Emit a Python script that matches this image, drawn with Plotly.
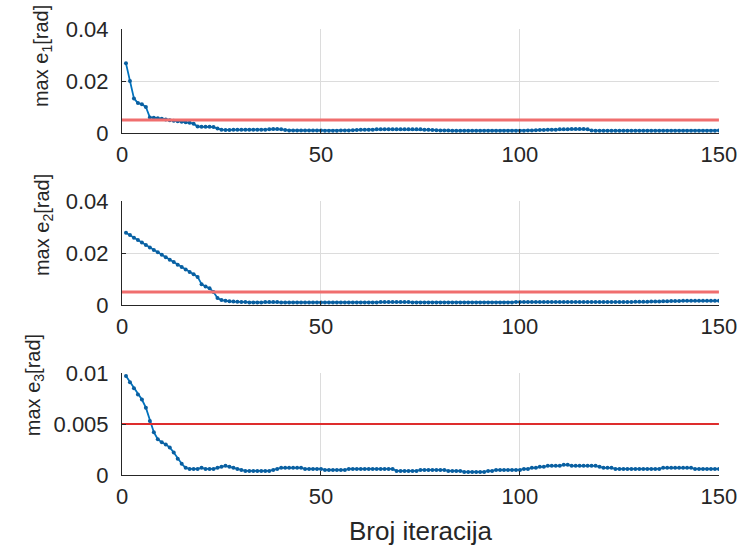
import plotly.graph_objects as go

# Iteration index
iterations = list(range(1, 151))

# Maximum tracking error per iteration, joint 1 [rad]
e1_max = [
    0.0268, 0.0200, 0.0133, 0.0115, 0.0111, 0.0100, 0.0060, 0.0059, 0.0057, 0.0055,
    0.0052, 0.0049, 0.0047, 0.0045, 0.0043, 0.0041, 0.0039, 0.0036, 0.0025, 0.0024,
    0.0024, 0.0024, 0.0023, 0.0017, 0.0013, 0.0012, 0.0012, 0.0013, 0.0013, 0.0013,
    0.0013, 0.0013, 0.0013, 0.0013, 0.0013, 0.0013, 0.0014, 0.0015, 0.0015, 0.0014,
    0.0012, 0.0010, 0.0010, 0.0010, 0.0010, 0.0010, 0.0010, 0.0010, 0.0010, 0.0010,
    0.0009, 0.0009, 0.0009, 0.0009, 0.0010, 0.0010, 0.0010, 0.0011, 0.0012, 0.0013,
    0.0013, 0.0013, 0.0013, 0.0014, 0.0014, 0.0014, 0.0014, 0.0014, 0.0014, 0.0014,
    0.0014, 0.0014, 0.0014, 0.0014, 0.0014, 0.0013, 0.0013, 0.0012, 0.0011, 0.0010,
    0.0010, 0.0010, 0.0009, 0.0009, 0.0009, 0.0009, 0.0009, 0.0009, 0.0009, 0.0009,
    0.0009, 0.0009, 0.0009, 0.0009, 0.0009, 0.0009, 0.0009, 0.0009, 0.0009, 0.0009,
    0.0009, 0.0010, 0.0010, 0.0011, 0.0012, 0.0012, 0.0013, 0.0013, 0.0013, 0.0014,
    0.0014, 0.0014, 0.0015, 0.0015, 0.0015, 0.0015, 0.0014, 0.0010, 0.0009, 0.0009,
    0.0009, 0.0009, 0.0009, 0.0009, 0.0009, 0.0009, 0.0009, 0.0009, 0.0009, 0.0009,
    0.0009, 0.0009, 0.0009, 0.0009, 0.0009, 0.0009, 0.0009, 0.0009, 0.0009, 0.0009,
    0.0009, 0.0009, 0.0009, 0.0009, 0.0009, 0.0009, 0.0009, 0.0009, 0.0009, 0.0010,
]

# Maximum tracking error per iteration, joint 2 [rad]
e2_max = [
    0.0278, 0.0269, 0.0259, 0.0250, 0.0240, 0.0231, 0.0221, 0.0212, 0.0203, 0.0193,
    0.0184, 0.0174, 0.0165, 0.0155, 0.0146, 0.0137, 0.0127, 0.0118, 0.0108, 0.0080,
    0.0071, 0.0064, 0.0050, 0.0027, 0.0019, 0.0016, 0.0014, 0.0013, 0.0012, 0.0011,
    0.0011, 0.0010, 0.0010, 0.0010, 0.0010, 0.0011, 0.0011, 0.0011, 0.0011, 0.0010,
    0.0010, 0.0010, 0.0010, 0.0010, 0.0010, 0.0010, 0.0010, 0.0010, 0.0010, 0.0010,
    0.0010, 0.0010, 0.0010, 0.0010, 0.0010, 0.0010, 0.0010, 0.0010, 0.0010, 0.0010,
    0.0010, 0.0010, 0.0010, 0.0010, 0.0011, 0.0011, 0.0011, 0.0011, 0.0011, 0.0011,
    0.0011, 0.0011, 0.0010, 0.0010, 0.0010, 0.0010, 0.0010, 0.0010, 0.0010, 0.0010,
    0.0010, 0.0010, 0.0010, 0.0010, 0.0010, 0.0010, 0.0010, 0.0010, 0.0010, 0.0010,
    0.0010, 0.0010, 0.0010, 0.0010, 0.0010, 0.0010, 0.0010, 0.0010, 0.0011, 0.0011,
    0.0011, 0.0011, 0.0011, 0.0011, 0.0011, 0.0011, 0.0011, 0.0011, 0.0011, 0.0011,
    0.0011, 0.0011, 0.0011, 0.0011, 0.0011, 0.0011, 0.0011, 0.0011, 0.0011, 0.0011,
    0.0011, 0.0011, 0.0011, 0.0011, 0.0011, 0.0011, 0.0011, 0.0011, 0.0012, 0.0012,
    0.0012, 0.0012, 0.0013, 0.0013, 0.0013, 0.0014, 0.0014, 0.0015, 0.0015, 0.0015,
    0.0016, 0.0016, 0.0016, 0.0016, 0.0016, 0.0016, 0.0016, 0.0016, 0.0016, 0.0016,
]

# Maximum tracking error per iteration, joint 3 [rad]
e3_max = [
    0.0097, 0.0091, 0.0085, 0.0079, 0.0074, 0.0066, 0.0053, 0.0042, 0.0035, 0.0032,
    0.0030, 0.0027, 0.0022, 0.0016, 0.0011, 0.0007, 0.0006, 0.0006, 0.0006, 0.0007,
    0.0006, 0.0006, 0.0006, 0.0007, 0.0008, 0.0009, 0.0008, 0.0007, 0.0006, 0.0005,
    0.0004, 0.0004, 0.0004, 0.0004, 0.0004, 0.0004, 0.0004, 0.0005, 0.0006, 0.0007,
    0.0007, 0.0007, 0.0007, 0.0007, 0.0007, 0.0006, 0.0006, 0.0006, 0.0006, 0.0006,
    0.0005, 0.0005, 0.0005, 0.0005, 0.0005, 0.0005, 0.0006, 0.0006, 0.0006, 0.0006,
    0.0006, 0.0006, 0.0006, 0.0006, 0.0006, 0.0006, 0.0006, 0.0006, 0.0004, 0.0004,
    0.0004, 0.0004, 0.0004, 0.0004, 0.0005, 0.0005, 0.0005, 0.0005, 0.0005, 0.0005,
    0.0005, 0.0004, 0.0004, 0.0004, 0.0004, 0.0003, 0.0003, 0.0003, 0.0003, 0.0003,
    0.0003, 0.0004, 0.0004, 0.0005, 0.0005, 0.0005, 0.0005, 0.0005, 0.0005, 0.0005,
    0.0006, 0.0006, 0.0007, 0.0007, 0.0008, 0.0008, 0.0009, 0.0009, 0.0009, 0.0009,
    0.0010, 0.0010, 0.0009, 0.0009, 0.0009, 0.0009, 0.0009, 0.0009, 0.0009, 0.0008,
    0.0007, 0.0007, 0.0007, 0.0006, 0.0006, 0.0006, 0.0006, 0.0006, 0.0006, 0.0006,
    0.0006, 0.0006, 0.0006, 0.0006, 0.0006, 0.0007, 0.0007, 0.0007, 0.0007, 0.0007,
    0.0007, 0.0007, 0.0007, 0.0006, 0.0006, 0.0006, 0.0006, 0.0006, 0.0006, 0.0006,
]

threshold = 0.005
series = [e1_max, e2_max, e3_max]
y_ranges = [[0, 0.040004], [0, 0.040004], [0, 0.010001]]
y_ticks = [[0, 0.02, 0.04], [0, 0.02, 0.04], [0, 0.005, 0.01]]
y_ticktext = [["0", "0.02", "0.04"], ["0", "0.02", "0.04"], ["0", "0.005", "0.01"]]
y_titles = ["max e<sub>1</sub>[rad]", "max e<sub>2</sub>[rad]", "max e<sub>3</sub>[rad]"]
x_range = [0, 150.02]
x_ticks = [0, 50, 100, 150]
x_title = "Broj iteracija"

line_blue = "#0072BD"
limit_colors = ["rgba(240,110,110,1)", "rgba(240,110,110,1)", "rgb(222,45,45)"]
limit_widths = [3, 3, 2]
domains = [[0.7668, 1.0], [0.3812, 0.6143], [0.0, 0.2287]]
ink = "#262626"
font_family = "Liberation Sans, Arial, sans-serif"

fig = go.Figure()
layout = dict(
    width=749, height=560,
    margin=dict(l=122, r=22, t=29, b=85),
    paper_bgcolor="white", plot_bgcolor="white",
    showlegend=False,
    font=dict(family=font_family, color=ink),
)

for i, vals in enumerate(series):
    n = i + 1
    xa = "x" if n == 1 else f"x{n}"
    ya = "y" if n == 1 else f"y{n}"
    fig.add_trace(go.Scatter(
        x=iterations, y=vals, xaxis=xa, yaxis=ya,
        mode="lines+markers",
        line=dict(color=line_blue, width=1.8),
        marker=dict(color="#0a5fa0", size=4),
    ))
    fig.add_trace(go.Scatter(
        x=[0, 150], y=[threshold, threshold], xaxis=xa, yaxis=ya,
        mode="lines",
        line=dict(color=limit_colors[i], width=limit_widths[i]),
    ))
    axis_common = dict(
        showgrid=True, gridcolor="#dcdcdc", gridwidth=1,
        zeroline=False, showline=True, linecolor=ink, linewidth=1,
        ticks="inside", ticklen=4, tickcolor=ink,
        tickfont=dict(size=22, color=ink, family=font_family),
    )
    layout["xaxis" if n == 1 else f"xaxis{n}"] = dict(
        axis_common, range=x_range, tickvals=x_ticks,
        anchor=ya, ticklabelstandoff=2,
    )
    layout["yaxis" if n == 1 else f"yaxis{n}"] = dict(
        axis_common, range=y_ranges[i], tickvals=y_ticks[i],
        ticktext=y_ticktext[i], domain=domains[i], anchor=xa,
        ticklabelstandoff=8,
    )

annotations = []
label_pos = [(42, 56), (42, 225), (33, 385)]
for i, (px, py) in enumerate(label_pos):
    annotations.append(dict(
        text=y_titles[i], textangle=-90, showarrow=False,
        xref="paper", yref="paper",
        x=(px - 122) / 605, y=(475 - py) / 446,
        xanchor="center", yanchor="middle",
        font=dict(size=20, color=ink, family=font_family),
    ))
annotations.append(dict(
    text=x_title, showarrow=False, xref="paper", yref="paper",
    x=0.5, y=(475 - 531) / 446, xanchor="center", yanchor="middle",
    font=dict(size=26, color=ink, family=font_family),
))
layout["annotations"] = annotations

fig.update_layout(**layout)
fig.write_html("out.html")
